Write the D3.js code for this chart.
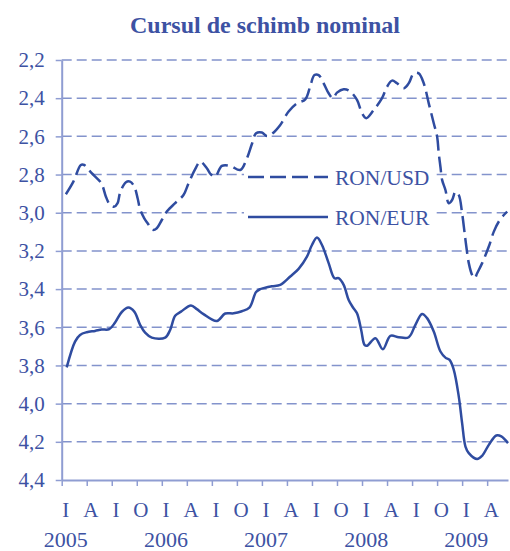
<!DOCTYPE html>
<html>
<head>
<meta charset="utf-8">
<script src="https://cdn.jsdelivr.net/npm/d3@7"></script>
<style>
  body { margin: 0; background: #fff; }
  svg { display: block; }
  svg text { font-family: "Liberation Serif", "Times New Roman", Tinos, Times, serif; fill: #3d52a3; }
</style>
</head>
<body>
<svg width="510" height="551"></svg>
<script>
// month index: 0 = start of Jan 2005, one unit per month
const eurMonth = [0.6, 1.6, 2.2, 3.0, 4.0, 4.8, 5.7, 6.4, 7.2, 8.0, 8.7, 9.4, 10.0, 10.8, 12.4, 13.0, 13.6, 14.3, 15.5, 16.2, 17.0, 18.6, 19.6, 20.6, 21.6, 22.5, 23.3, 23.8, 24.2, 25.2, 26.2, 27.4, 28.4, 29.4, 30.0, 30.6, 31.2, 32.0, 32.7, 33.2, 33.8, 34.4, 34.9, 35.4, 35.9, 36.3, 36.6, 37.6, 38.5, 39.4, 40.4, 41.6, 42.4, 43.2, 43.8, 44.6, 45.4, 46.0, 46.5, 47.0, 47.6, 48.0, 48.4, 48.8, 49.8, 50.4, 51.2, 52.1, 52.7, 53.5]
const eurValue = [3.81, 3.675, 3.64, 3.626, 3.619, 3.612, 3.61, 3.575, 3.52, 3.497, 3.518, 3.587, 3.628, 3.654, 3.654, 3.614, 3.54, 3.518, 3.486, 3.505, 3.531, 3.567, 3.528, 3.527, 3.516, 3.497, 3.415, 3.40, 3.395, 3.385, 3.378, 3.334, 3.294, 3.23, 3.169, 3.13, 3.169, 3.264, 3.343, 3.343, 3.378, 3.457, 3.495, 3.527, 3.614, 3.692, 3.697, 3.657, 3.715, 3.645, 3.652, 3.652, 3.587, 3.53, 3.552, 3.622, 3.727, 3.759, 3.771, 3.823, 3.963, 4.102, 4.225, 4.259, 4.29, 4.273, 4.216, 4.167, 4.172, 4.207]

const usdMonth = [0.5, 1.4, 2.3, 2.7, 3.6, 4.6, 4.9, 5.3, 5.8, 6.3, 6.7, 7.0, 7.7, 8.2, 8.7, 9.1, 9.4, 9.9, 10.3, 10.9, 11.4, 12.0, 12.6, 13.6, 14.6, 15.2, 16.0, 16.6, 17.4, 17.9, 18.4, 19.2, 20.2, 21.4, 22.2, 22.8, 23.3, 24.0, 24.6, 25.2, 26.2, 27.2, 28.2, 29.2, 29.8, 30.3, 30.8, 31.4, 32.0, 32.5, 33.0, 33.8, 34.5, 35.4, 36.0, 36.5, 37.4, 38.4, 39.0, 39.6, 40.2, 41.0, 41.6, 42.2, 42.8, 43.4, 44.0, 44.6, 45.0, 45.2, 45.4, 45.6, 46.0, 46.4, 46.8, 47.2, 47.6, 48.0, 48.4, 48.8, 49.2, 49.5, 49.8, 50.4, 51.2, 51.8, 52.4, 53.0, 53.4]
const usdValue = [2.903, 2.837, 2.75, 2.75, 2.793, 2.837, 2.86, 2.916, 2.959, 2.968, 2.95, 2.895, 2.84, 2.837, 2.863, 2.924, 2.982, 3.029, 3.055, 3.09, 3.081, 3.038, 2.994, 2.95, 2.907, 2.846, 2.772, 2.732, 2.767, 2.80, 2.811, 2.755, 2.755, 2.776, 2.715, 2.64, 2.584, 2.58, 2.598, 2.587, 2.54, 2.47, 2.427, 2.406, 2.336, 2.279, 2.279, 2.322, 2.374, 2.40, 2.371, 2.353, 2.362, 2.409, 2.479, 2.505, 2.462, 2.40, 2.34, 2.308, 2.322, 2.348, 2.322, 2.27, 2.27, 2.322, 2.427, 2.531, 2.601, 2.689, 2.759, 2.828, 2.881, 2.95, 2.933, 2.89, 2.907, 3.003, 3.142, 3.264, 3.326, 3.343, 3.317, 3.264, 3.177, 3.099, 3.046, 3.012, 2.994]

const quarterLabels = ['I', 'A', 'I', 'O', 'I', 'A', 'I', 'O', 'I', 'A', 'I', 'O', 'I', 'A', 'I', 'O', 'I', 'A']
const years = ['2005', '2006', '2007', '2008', '2009']
const yTicks = [2.2, 2.4, 2.6, 2.8, 3.0, 3.2, 3.4, 3.6, 3.8, 4.0, 4.2, 4.4]
const seriesNames = ['RON/USD', 'RON/EUR']

const lineColor = '#2f4ca0'
const gridColor = '#8393cc'
const axisColor = '#8f9dd2'
const textColor = '#3d52a3'
const serif = '"Liberation Serif", "Times New Roman", Times, serif'

const svg = d3.select('svg')

const x = d3.scaleLinear().domain([0, 53.5]).range([61.7, 508])
const y = d3.scaleLinear().domain([2.2, 4.4]).range([60, 480])

const fmt = d => d3.format('.1f')(d).replace('.', ',')

svg.append('text')
    .attr('x', 265)
    .attr('y', 33)
    .attr('text-anchor', 'middle')
    .attr('font-size', 24)
    .attr('font-weight', 'bold')
    .style('font-family', serif)
    .text('Cursul de schimb nominal')

// gridlines
svg.append('g').selectAll('line')
    .data(yTicks.filter(d => d < 4.4))
    .enter().append('line')
        .attr('x1', x(0)).attr('x2', x(53.5))
        .attr('y1', d => y(d)).attr('y2', d => y(d))
        .attr('stroke', gridColor)
        .attr('stroke-width', 1.5)
        .attr('stroke-dasharray', '10,5')

// legend (box hides gridlines)
const legend = svg.append('g')
legend.append('rect')
    .attr('x', 244).attr('y', 162)
    .attr('width', 190).attr('height', 70)
    .attr('fill', '#fff')
legend.selectAll('line')
    .data(seriesNames)
    .enter().append('line')
        .attr('x1', 248).attr('x2', 328)
        .attr('y1', (d, i) => 177 + i * 40).attr('y2', (d, i) => 177 + i * 40)
        .attr('stroke', lineColor)
        .attr('stroke-width', 2.5)
        .attr('stroke-dasharray', (d, i) => i === 0 ? '16,6' : null)
legend.selectAll('text')
    .data(seriesNames)
    .enter().append('text')
        .attr('x', 335)
        .attr('y', (d, i) => 185 + i * 40)
        .attr('font-size', 21.5)
        .style('font-family', serif)
        .text(d => d)

// axes
const yAxis = svg.append('g')
    .attr('transform', `translate(${x(0)},0)`)
    .call(d3.axisLeft(y).tickValues(yTicks).tickSize(6).tickSizeOuter(0).tickPadding(11).tickFormat(fmt))
yAxis.select('.domain').attr('stroke', axisColor).attr('stroke-width', 2)
yAxis.selectAll('.tick line').attr('stroke', axisColor).attr('stroke-width', 1.5)
yAxis.selectAll('.tick text')
    .attr('font-size', 21)
    .attr('fill', textColor)
    .style('font-family', serif)

const xAxis = svg.append('g')
    .attr('transform', `translate(0,${y(4.4)})`)
    .call(d3.axisBottom(x).tickValues(d3.range(0, 52, 3)).tickSize(6).tickSizeOuter(0).tickFormat(''))
xAxis.select('.domain').attr('stroke', axisColor).attr('stroke-width', 2)
xAxis.selectAll('.tick line').attr('stroke', axisColor).attr('stroke-width', 1.5)

svg.append('g').selectAll('text')
    .data(quarterLabels)
    .enter().append('text')
        .attr('x', (d, i) => x(i * 3 + 0.5))
        .attr('y', 517)
        .attr('text-anchor', 'middle')
        .attr('font-size', 21)
        .style('font-family', serif)
        .text(d => d)

svg.append('g').selectAll('text')
    .data(years)
    .enter().append('text')
        .attr('x', (d, i) => x(i * 12 + 0.5))
        .attr('y', 547)
        .attr('text-anchor', 'middle')
        .attr('font-size', 22)
        .style('font-family', serif)
        .text(d => d)

// series
const line = d3.line()
    .x(d => x(d[0]))
    .y(d => y(d[1]))
    .curve(d3.curveCatmullRom.alpha(0.5))

svg.append('path')
    .datum(d3.zip(usdMonth, usdValue))
    .attr('d', line)
    .attr('fill', 'none')
    .attr('stroke', lineColor)
    .attr('stroke-width', 2.5)
    .attr('stroke-dasharray', '16,6')

svg.append('path')
    .datum(d3.zip(eurMonth, eurValue))
    .attr('d', line)
    .attr('fill', 'none')
    .attr('stroke', lineColor)
    .attr('stroke-width', 2.5)
</script>
</body>
</html>
